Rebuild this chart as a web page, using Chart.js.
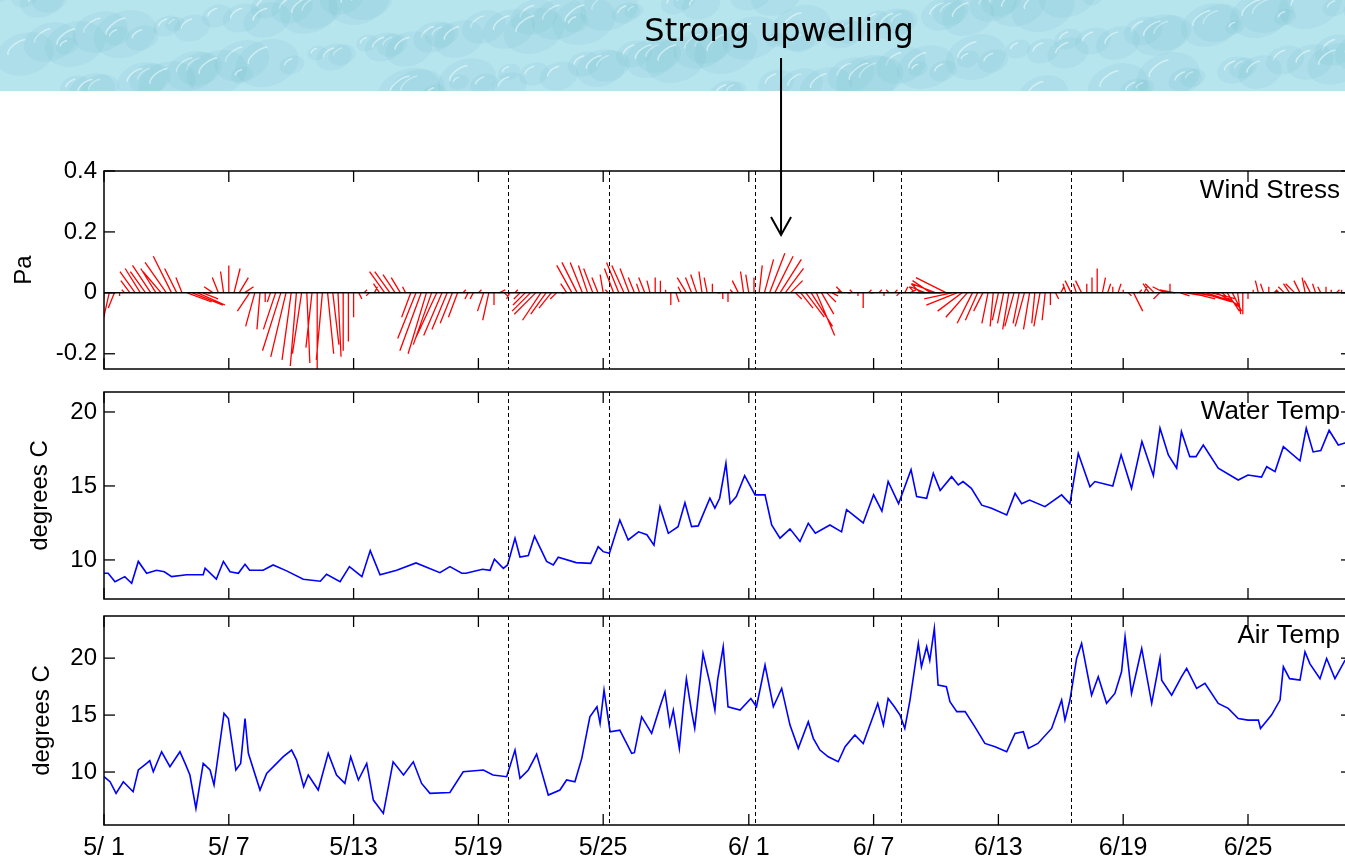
<!DOCTYPE html>
<html>
<head>
<meta charset="utf-8">
<title>Wind stress, water and air temperature</title>
<script src="https://cdn.jsdelivr.net/npm/chart.js@4.4.1/dist/chart.umd.min.js"></script>
<style>
    html, body { margin: 0; padding: 0; background: #fff; overflow: hidden; }
    #page { position: relative; width: 1345px; height: 862px; overflow: hidden; }
    #page canvas { position: absolute; left: 0; }
    #windCanvas { top: 0; }
    #waterCanvas { top: 380px; }
    #airCanvas { top: 605px; }
</style>
</head>
<body>
<div id="page">
    <canvas id="windCanvas" width="1360" height="380"></canvas>
    <canvas id="waterCanvas" width="1360" height="225"></canvas>
    <canvas id="airCanvas" width="1360" height="257"></canvas>
</div>
<script>
// time axis: days since 5/1 00:00
const tickDays = [0, 6, 12, 18, 24, 31, 37, 43, 49, 55];
const tickLabels = ['5/ 1', '5/ 7', '5/13', '5/19', '5/25', '6/ 1', '6/ 7', '6/13', '6/19', '6/25'];
const eventDays = [19.4, 24.3, 31.3, 38.3, 46.5];

const windTicks = [-0.2, 0, 0.2, 0.4];
const waterTicks = [10, 15, 20];
const airTicks = [10, 15, 20];

// wind stress components (Pa), one stick every 6 hours, 4 per line = 1 day
const windStep = 0.25;
const windU = [
    -0.01, -0.02, -0.02, 0.00,   -0.01, -0.03, -0.05, -0.05,   -0.05, -0.06, -0.05, -0.06,
    -0.07, -0.06, -0.04, -0.02,   0.08, 0.10, 0.09, 0.05,      0.01, -0.03, -0.02, -0.01,
    0.00, 0.02, 0.03, 0.03,       -0.04, -0.03, -0.01, 0.00,   -0.01, -0.04, -0.06, -0.05,
    -0.03, -0.02, -0.03, 0.01,    -0.02, 0.00, -0.02, 0.02,    0.02, 0.01, 0.00, 0.00,
    0.00, 0.01, 0.01, -0.01,      0.01, -0.02, -0.05, -0.05,   -0.04, -0.03, -0.01, -0.03,
    -0.06, -0.07, -0.06, -0.06,   -0.07, -0.06, -0.05, -0.04,  -0.03, 0.01, -0.01, -0.01,
    0.01, -0.02, -0.02, 0.00,     0.02, 0.01, -0.01, 0.01,     -0.02, -0.04, -0.06, -0.07,
    -0.06, -0.05, -0.04, -0.02,   0.01, -0.02, -0.05, -0.05,   -0.04, -0.03, -0.03, -0.02,
    -0.01, -0.01, -0.03, -0.04,   -0.04, -0.03, -0.02, -0.01,  -0.02, -0.01, 0.00, 0.00,
    0.00, 0.00, 0.01, -0.01,      -0.03, -0.02, -0.02, -0.01,  -0.01, 0.00, 0.01, 0.00,
    0.00, -0.01, -0.02, -0.01,    -0.01, 0.00, 0.01, 0.03,     0.05, 0.06, 0.07, 0.06,
    0.04, 0.02, 0.04, 0.06,       0.07, 0.06, 0.04, 0.03,      0.02, 0.01, -0.02, 0.01,
    -0.01, 0.00, 0.00, 0.01,      -0.01, 0.01, 0.00, -0.01,    0.01, -0.01, 0.01, 0.02,
    -0.02, -0.03, -0.05, -0.06,   -0.08, -0.08, -0.10, -0.09,  -0.10, -0.08, -0.07, -0.05,
    -0.04, -0.03, -0.02, -0.01,   -0.02, -0.02, -0.02, -0.03,  -0.02, -0.03, -0.02, -0.01,
    -0.02, -0.01, 0.00, 0.01,     0.01, -0.01, -0.02, -0.01,   -0.02, 0.00, 0.00, 0.00,
    0.01, 0.01, 0.00, 0.01,       0.00, 0.01, 0.03, 0.01,      0.01, -0.02, -0.03, -0.02,
    -0.04, 0.00, -0.05, 0.03,     0.06, 0.08, 0.10, 0.10,      0.09, 0.08, 0.07, 0.06,
    0.04, 0.03, 0.01, 0.00,       0.00, 0.00, -0.01, -0.01,    0.00, 0.01, -0.01, -0.02,
    -0.02, -0.03, -0.02, -0.01,   -0.02, -0.01, -0.01, 0.00,   0.00, 0.01, 0.00, 0.00
];
const windV = [
    -0.13, -0.09, -0.05, -0.01,   0.01, 0.04, 0.07, 0.08,      0.07, 0.09, 0.08, 0.07,
    0.10, 0.12, 0.08, 0.05,       -0.03, -0.04, -0.04, -0.02,  0.00, 0.02, 0.05, 0.07,
    0.09, 0.08, 0.05, 0.02,       -0.06, -0.11, -0.12, -0.03,  -0.03, -0.12, -0.19, -0.21,
    -0.22, -0.24, -0.20, -0.23,   -0.18, -0.25, -0.22, -0.20,  -0.17, -0.21, -0.19, -0.16,
    -0.08, -0.02, 0.01, -0.01,    0.02, 0.03, 0.07, 0.07,      0.06, 0.05, 0.02, -0.08,
    -0.15, -0.19, -0.20, -0.17,   -0.15, -0.14, -0.12, -0.10,  -0.08, 0.01, -0.02, -0.02,
    0.01, -0.06, -0.09, -0.04,    0.01, -0.01, -0.02, 0.01,    -0.02, -0.04, -0.06, -0.07,
    -0.09, -0.07, -0.05, -0.02,   0.00, 0.03, 0.09, 0.10,      0.10, 0.09, 0.08, 0.05,
    0.06, 0.01, 0.08, 0.10,       0.09, 0.08, 0.05, 0.03,      0.05, 0.04, 0.05, 0.04,
    0.01, -0.04, -0.03, 0.02,     0.05, 0.05, 0.06, 0.07,      0.05, 0.03, 0.00, -0.02,
    -0.03, 0.01, 0.04, 0.07,      0.06, 0.05, 0.09, 0.11,      0.13, 0.12, 0.11, 0.08,
    0.04, -0.02, -0.05, -0.08,    -0.11, -0.14, -0.07, -0.03,  -0.01, 0.01, 0.02, 0.00,
    0.01, -0.01, -0.05, 0.01,     0.00, 0.01, -0.01, 0.01,     0.01, -0.01, 0.02, 0.01,
    0.02, 0.03, 0.02, 0.04,       0.03, 0.00, 0.05, -0.02,     -0.04, -0.06, -0.08, -0.10,
    -0.09, -0.06, -0.10, -0.11,   -0.09, -0.10, -0.12, -0.11,  -0.10, -0.11, -0.12, -0.10,
    -0.11, -0.09, -0.04, -0.02,   0.02, 0.03, 0.04, 0.03,      0.04, 0.03, 0.05, 0.08,
    0.05, 0.03, 0.02, 0.03,       0.01, -0.01, -0.06, 0.01,    0.02, 0.03, 0.03, -0.02,
    0.02, 0.03, 0.01, -0.01,      -0.01, -0.02, -0.02, -0.03,  -0.03, -0.02, -0.04, -0.05,
    -0.06, -0.06, -0.07, -0.07,   -0.02, 0.01, 0.04, 0.03,     0.02, 0.01, 0.01, 0.02,
    0.03, 0.03, 0.04, 0.05,       0.04, 0.03, 0.02, 0.02,      0.01, 0.01, 0.01, 0.00
];

// water temperature (degrees C)
const waterDay = [0, 0.2, 0.53, 1.0, 1.33, 1.65, 2.05, 2.53, 2.9, 3.25, 3.97, 4.77, 4.86, 5.4, 5.74, 6.06, 6.46, 6.78, 7.0, 7.65,
    8.13, 8.78, 9.58, 10.4, 10.7, 11.35, 11.8, 12.4, 12.8, 13.27, 14.07, 15.0, 16.15, 16.63, 17.2, 17.4, 18.2, 18.56, 18.77, 19.2,
    19.4, 19.76, 20.0, 20.4, 20.7, 21.28, 21.6, 21.84, 22.7, 23.4, 23.76, 24.0, 24.3, 24.8, 25.2, 25.7, 26.1, 26.44, 26.73, 27.13,
    27.6, 27.93, 28.25, 28.57, 29.13, 29.37, 29.6, 29.9, 30.1, 30.4, 30.8, 31.3, 31.78, 32.1, 32.5, 32.98, 33.46, 33.86, 34.2, 34.9,
    35.46, 35.7, 36.5, 37.0, 37.4, 37.7, 38.2, 38.8, 39.07, 39.55, 39.87, 40.2, 40.75, 41.07, 41.3, 41.7, 42.2, 42.67, 43.4, 43.8,
    44.12, 44.5, 45.24, 46.04, 46.44, 46.84, 47.4, 47.64, 48.5, 48.9, 49.4, 49.9, 50.45, 50.77, 51.17, 51.57, 51.8, 52.2, 52.5, 52.85,
    53.57, 54.53, 55.0, 55.65, 55.9, 56.3, 56.7, 57.5, 57.8, 58.13, 58.5, 58.9, 59.34, 59.66, 60];
const waterC = [9.1, 9.1, 8.53, 8.87, 8.42, 9.9, 9.1, 9.3, 9.2, 8.87, 9.0, 9.0, 9.44, 8.7, 9.9, 9.2, 9.1, 9.7, 9.3, 9.3,
    9.66, 9.26, 8.7, 8.56, 9.03, 8.53, 9.55, 8.87, 10.63, 9.0, 9.3, 9.8, 9.14, 9.55, 9.1, 9.1, 9.37, 9.3, 10.05, 9.43,
    9.66, 11.46, 10.2, 10.3, 11.6, 9.9, 9.66, 10.18, 9.82, 9.77, 10.9, 10.56, 10.45, 12.7, 11.35, 11.9, 11.7, 11.0, 13.6, 11.8,
    12.25, 13.87, 12.25, 12.3, 14.17, 13.5, 14.17, 16.53, 13.8, 14.28, 15.7, 14.4, 14.4, 12.36, 11.47, 12.1, 11.24, 12.48, 11.8, 12.36,
    11.9, 13.4, 12.5, 14.4, 13.3, 15.3, 13.8, 16.1, 14.28, 14.17, 15.86, 14.7, 15.63, 15.07, 15.3, 14.84, 13.7, 13.49, 13.04, 14.5,
    13.8, 14.05, 13.6, 14.4, 13.8, 17.2, 14.95, 15.3, 15.0, 17.1, 14.84, 18.0, 15.7, 18.9, 17.1, 16.2, 18.67, 16.98, 16.98, 17.77,
    16.2, 15.4, 15.74, 15.6, 16.3, 15.97, 17.65, 16.7, 18.9, 17.3, 17.4, 18.76, 17.77, 17.9, 18.0];

// air temperature (degrees C)
const airDay = [0, 0.29, 0.58, 0.93, 1.4, 1.65, 2.05, 2.2, 2.37, 2.77, 3.17, 3.65, 3.9, 4.13, 4.42, 4.77, 5.1, 5.29, 5.77, 5.98,
    6.34, 6.57, 6.78, 6.94, 7.5, 7.82, 8.3, 8.62, 9.02, 9.26, 9.6, 9.82, 10.3, 10.78, 11.18, 11.58, 11.86, 12.23, 12.63, 12.95,
    13.43, 13.9, 14.4, 14.87, 15.27, 15.67, 16.63, 17.27, 18.24, 18.7, 19.36, 19.76, 20.0, 20.4, 20.8, 21.36, 21.92, 22.24, 22.64, 22.97,
    23.36, 23.7, 23.85, 24.04, 24.33, 24.8, 25.37, 25.5, 25.85, 26.33, 26.73, 26.97, 27.2, 27.37, 27.66, 27.85, 28.0, 28.25, 28.4, 28.8,
    29.13, 29.37, 29.5, 29.77, 30.0, 30.58, 31.1, 31.37, 31.78, 32.18, 32.58, 32.98, 33.38, 33.86, 34.1, 34.42, 34.82, 35.3, 35.63, 36.1,
    36.5, 37.0, 37.2, 37.47, 37.7, 38.0, 38.27, 38.5, 38.75, 39.15, 39.3, 39.55, 39.7, 39.92, 40.1, 40.5, 40.67, 41.0, 41.4, 41.87,
    42.35, 42.84, 43.4, 43.8, 44.2, 44.44, 44.9, 45.56, 46.04, 46.2, 46.44, 46.76, 47.0, 47.48, 47.8, 48.2, 48.6, 48.92, 49.09, 49.4,
    49.89, 50.37, 50.77, 50.85, 51.33, 51.8, 52.05, 52.53, 52.93, 53.57, 54.05, 54.53, 55.0, 55.5, 55.6, 56.13, 56.54, 56.7, 57.0, 57.5,
    57.74, 57.98, 58.46, 58.78, 59.18, 59.66, 60];
const airC = [9.6, 9.15, 8.13, 9.15, 8.27, 10.18, 10.76, 11.0, 10.03, 11.78, 10.47, 11.78, 10.76, 9.74, 6.8, 10.76, 10.18, 8.86, 15.15, 14.7,
    10.18, 10.76, 14.7, 11.64, 8.42, 9.88, 10.76, 11.35, 11.93, 11.05, 8.71, 9.74, 8.42, 11.64, 9.74, 9.0, 11.35, 9.3, 10.76, 7.54,
    6.37, 10.9, 9.74, 10.9, 9.0, 8.13, 8.2, 10.03, 10.18, 9.74, 9.59, 11.93, 9.45, 10.18, 11.58, 7.98, 8.42, 9.3, 9.15, 11.2,
    14.85, 15.73, 14.27, 17.2, 13.54, 13.68, 11.64, 11.7, 14.85, 13.4, 15.73, 17.04, 14.12, 15.44, 12.08, 15.73, 18.2, 15.3, 13.83, 20.4,
    17.78, 15.44, 18.07, 21.0, 15.73, 15.44, 16.46, 15.73, 19.4, 15.73, 17.34, 14.12, 12.08, 14.41, 12.96, 11.93, 11.34, 10.9, 12.22, 13.25,
    12.51, 15.0, 16.03, 14.12, 16.46, 15.73, 15.0, 13.83, 16.32, 21.29, 19.24, 21.0, 19.8, 22.6, 17.63, 17.49, 16.17, 15.3, 15.3, 13.97,
    12.51, 12.22, 11.78, 13.39, 13.54, 12.08, 12.51, 13.83, 16.32, 14.56, 16.32, 19.97, 21.29, 16.75, 18.36, 16.03, 16.9, 18.8, 21.87, 16.9,
    20.85, 16.03, 19.97, 18.07, 16.75, 18.36, 19.1, 17.34, 17.78, 16.03, 15.59, 14.7, 14.56, 14.56, 13.83, 15.0, 16.32, 19.24, 18.2, 18.07,
    20.55, 19.5, 18.2, 19.97, 18.2, 19.8, 19.9];

// annotation: strong upwelling event
const upwellingDay = 32.55;
const upwellingPa = 0.19;

// sticks keep their true direction: 305 px per Pa vs 20.8 px per day
const stickScale = 14.66;

Chart.defaults.font.family = '"Liberation Sans", Arial, sans-serif';
Chart.defaults.color = '#000';

const toPoints = (xs, ys) => xs.map((x, i) => ({ x: x, y: ys[i] }));

const stickPoints = [];
windU.forEach((u, i) => {
    const t = i * windStep;
    stickPoints.push({ x: t, y: 0 }, { x: t + u * stickScale, y: windV[i] }, { x: t, y: null });
});

// box, inward ticks, dashed event lines and panel name
const panelFrame = {
    id: 'panelFrame',
    afterDatasetsDraw(chart, args, opts) {
        const { ctx, chartArea: a, scales: { x, y } } = chart;
        const seg = (x1, y1, x2, y2) => { ctx.beginPath(); ctx.moveTo(x1, y1); ctx.lineTo(x2, y2); ctx.stroke(); };
        ctx.save();
        ctx.strokeStyle = '#000';
        ctx.lineWidth = 1;
        ctx.setLineDash([4, 3]);
        eventDays.forEach(d => {
            const px = Math.round(x.getPixelForValue(d)) + 0.5;
            seg(px, a.top, px, a.bottom);
        });
        ctx.setLineDash([]);
        ctx.lineWidth = 1.3;
        tickDays.forEach(d => {
            const px = x.getPixelForValue(d);
            seg(px, a.top, px, a.top + 11);
            seg(px, a.bottom, px, a.bottom - 11);
        });
        opts.yTicks.forEach(v => {
            const py = y.getPixelForValue(v);
            seg(a.left, py, a.left + 11, py);
            seg(a.right, py, a.right - 11, py);
        });
        ctx.lineWidth = 1.5;
        ctx.strokeRect(a.left, a.top, a.right - a.left, a.bottom - a.top);
        ctx.font = '26px "Liberation Sans", Arial, sans-serif';
        ctx.fillStyle = '#000';
        ctx.textAlign = 'right';
        ctx.textBaseline = 'alphabetic';
        ctx.fillText(opts.label, a.right - 12, a.top + 27);
        ctx.restore();
    }
};

// water drop banner at the top of the page
const banner = {
    id: 'banner',
    beforeDraw(chart) {
        const ctx = chart.ctx;
        const w = chart.width, h = 91;
        ctx.save();
        ctx.fillStyle = '#b7e5ee';
        ctx.fillRect(0, 0, w, h);
        ctx.beginPath();
        ctx.rect(0, 0, w, h);
        ctx.clip();
        for (let i = 0; i < 150; i++) {
            const cx = (i * 89) % w + (i % 3) * 11;
            const cy = (i * 37) % 100 - 5;
            const r = 7 + (i * 13) % 17;
            ctx.beginPath();
            ctx.ellipse(cx, cy, r * 1.4, r, -0.3, 0, Math.PI * 2);
            ctx.fillStyle = 'rgba(125, 195, 210, 0.18)';
            ctx.fill();
            ctx.strokeStyle = 'rgba(235, 252, 253, 0.6)';
            ctx.lineWidth = 1.5;
            ctx.beginPath();
            ctx.ellipse(cx - r * 0.3, cy - r * 0.3, r * 0.6, r * 0.25, -0.6, Math.PI, Math.PI * 1.8);
            ctx.stroke();
        }
        ctx.restore();
    },
    afterDraw(chart) {
        const { ctx, scales: { x, y } } = chart;
        const px = x.getPixelForValue(upwellingDay);
        const tip = y.getPixelForValue(upwellingPa);
        ctx.save();
        ctx.fillStyle = '#000';
        ctx.font = '32px "DejaVu Sans", sans-serif';
        ctx.textAlign = 'center';
        ctx.textBaseline = 'alphabetic';
        ctx.fillText('Strong upwelling', px - 2, 41);
        ctx.strokeStyle = '#000';
        ctx.lineWidth = 2;
        ctx.beginPath();
        ctx.moveTo(px, 58);
        ctx.lineTo(px, tip);
        ctx.moveTo(px - 10, tip - 18);
        ctx.lineTo(px, tip);
        ctx.lineTo(px + 10, tip - 18);
        ctx.stroke();
        ctx.restore();
    }
};

const makePanel = (id, datasets, yMin, yMax, yTicks, yFmt, title, titlePad, label, padTop, padBottom, showX, extra) => {
    return new Chart(document.getElementById(id).getContext('2d'), {
        type: 'line',
        data: { datasets: datasets },
        options: {
            responsive: false,
            animation: false,
            events: [],
            layout: { padding: { top: padTop, bottom: padBottom, left: 0, right: 8 } },
            plugins: {
                legend: { display: false },
                tooltip: { enabled: false },
                panelFrame: { label: label, yTicks: yTicks }
            },
            scales: {
                x: {
                    type: 'linear',
                    min: 0,
                    max: 60,
                    display: showX,
                    grid: { display: false, drawTicks: false },
                    border: { display: false },
                    afterBuildTicks: axis => { axis.ticks = tickDays.map(v => ({ value: v })); },
                    afterFit: axis => {
                        if (showX) axis.height = 37;
                        axis.paddingLeft = 0;
                        axis.paddingRight = 0;
                    },
                    ticks: {
                        autoSkip: false,
                        maxRotation: 0,
                        padding: 8,
                        font: { size: 25 },
                        callback: (value, index) => tickLabels[index]
                    }
                },
                y: {
                    type: 'linear',
                    min: yMin,
                    max: yMax,
                    grid: { display: false, drawTicks: false },
                    border: { display: false },
                    afterBuildTicks: axis => { axis.ticks = yTicks.map(v => ({ value: v })); },
                    afterFit: axis => {
                        axis.width = 104;
                        axis.paddingTop = 0;
                        axis.paddingBottom = 0;
                    },
                    ticks: {
                        padding: 7,
                        font: { size: 24 },
                        callback: yFmt
                    },
                    title: {
                        display: true,
                        text: title,
                        font: { size: 24 },
                        padding: { top: titlePad, bottom: 0 }
                    }
                }
            }
        },
        plugins: [panelFrame].concat(extra)
    });
};

const blueLine = (xs, ys) => ({
    data: toPoints(xs, ys),
    borderColor: '#0000ff',
    borderWidth: 1.6,
    pointRadius: 0,
    tension: 0
});

makePanel('windCanvas', [
    {
        data: [{ x: 0, y: 0 }, { x: 60, y: 0 }],
        borderColor: '#000',
        borderWidth: 1.5,
        pointRadius: 0
    },
    {
        data: stickPoints,
        borderColor: '#ff0000',
        borderWidth: 1.3,
        pointRadius: 0,
        spanGaps: false,
        tension: 0
    }
], -0.25, 0.4, windTicks, v => (v === 0 ? '0' : v.toFixed(1)), 'Pa', 10, 'Wind Stress', 171, 11, false, [banner]);

makePanel('waterCanvas', [blueLine(waterDay, waterC)], 7.36, 21.35, waterTicks, v => String(v),
    'degrees C', 26, 'Water Temp', 12, 6, false, []);

makePanel('airCanvas', [blueLine(airDay, airC)], 5.35, 23.7, airTicks, v => String(v),
    'degrees C', 28, 'Air Temp', 11, 0, true, []);
</script>
</body>
</html>
